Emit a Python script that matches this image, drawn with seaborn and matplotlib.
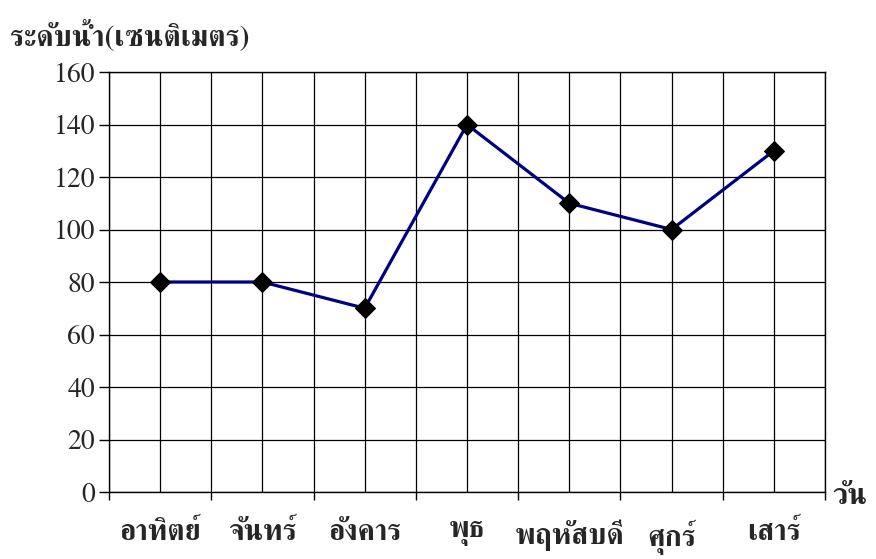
import matplotlib
matplotlib.use("Agg")
import matplotlib.pyplot as plt
import seaborn as sns
import numpy as np
import pandas as pd

# ข้อมูล
วัน = ['อาทิตย์', 'จันทร์', 'อังคาร', 'พุธ', 'พฤหัสบดี', 'ศุกร์', 'เสาร์']
ระดับน้ำ = [80, 80, 70, 140, 110, 100, 130]

sns.set_theme(style='white')
plt.rcParams['font.family'] = ['FreeSerif', 'Liberation Serif', 'DejaVu Serif']

df = pd.DataFrame({'x': np.arange(len(วัน)) + 0.5, 'y': ระดับน้ำ})

fig = plt.figure(figsize=(8.76, 5.59), dpi=100)
ax = fig.add_axes([109 / 876, 1 - 492 / 559, (825 - 109) / 876, (492 - 72) / 559])

sns.lineplot(data=df, x='x', y='y', ax=ax, color='#000080', linewidth=2.3,
             marker='D', markersize=10, markerfacecolor='black',
             markeredgecolor='black', zorder=3)

ax.set_xlim(0, len(วัน))
ax.set_ylim(0, 160)
ax.set_yticks(np.arange(0, 161, 20))
ax.set_xticks(np.arange(0, len(วัน) + 1))
ax.set_xticklabels([])
ax.set_xticks(df['x'], minor=True)
ax.set_xticklabels(วัน, minor=True, fontsize=21, fontweight='bold')
ax.tick_params(axis='x', which='major', length=6, width=1, color='black', direction='out', bottom=True)
ax.tick_params(axis='x', which='minor', length=0, pad=20, bottom=True)
ax.tick_params(axis='y', length=7, width=1, color='black', direction='out', left=True,
               labelsize=20, pad=3)
ax.grid(True, which='major', color='black', linewidth=0.9)
ax.grid(True, which='minor', axis='x', color='black', linewidth=0.9)
for s in ax.spines.values():
    s.set_color('black')
    s.set_linewidth(1.0)
ax.set_xlabel('')
ax.set_ylabel('')

fig.text(10 / 876, 1 - 45 / 559, 'ระดับน้ำ(เซนติเมตร)', fontsize=21, fontweight='bold',
         ha='left', va='baseline')
fig.text(832 / 876, 1 - 504 / 559, 'วัน', fontsize=21, fontweight='bold',
         ha='left', va='baseline')

fig.savefig('out.png', dpi=100, facecolor='white')
